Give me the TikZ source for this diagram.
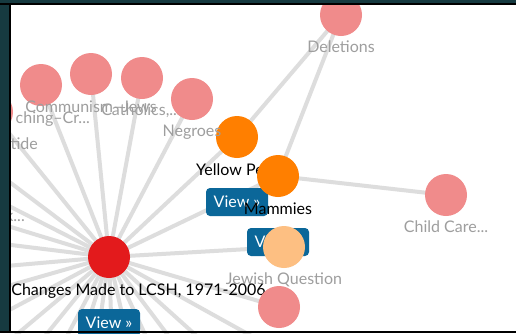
\documentclass[tikz,border=0pt]{standalone}
\usepackage{fontspec}
\setmainfont{Lato}
\definecolor{pinkn}{RGB}{240,139,139}
\definecolor{redn}{RGB}{227,26,28}
\definecolor{orangen}{RGB}{255,127,0}
\definecolor{lorangen}{RGB}{253,191,130}
\definecolor{labelgray}{RGB}{158,158,158}
\definecolor{btnblue}{RGB}{11,103,153}
\definecolor{edgegray}{RGB}{221,221,221}
\definecolor{framet}{RGB}{22,58,64}
\begin{document}
\begin{tikzpicture}[x=1pt,y=-1pt,
  dot/.style={circle, minimum size=42pt, inner sep=0pt, draw=none},
  lbl/.style={anchor=base, inner sep=0pt, font=\fontsize{16}{19}\selectfont, text=labelgray},
  dlbl/.style={lbl, text=black},
  btn/.style={fill=btnblue, rounded corners=4pt, minimum width=62pt, minimum height=28pt, inner sep=0pt, text=white, font=\fontsize{16}{19}\selectfont},
  edge/.style={draw=edgegray, line width=4pt}]
\useasboundingbox (0,0) rectangle (516,333);
\fill[white] (0,0) rectangle (516,333);
% node positions
\coordinate (redc) at (109,257);
\foreach \a in {143,153,163,173,185,196,208,220,231,242,252,262,272,283,295,307,318,331}
  \path (redc) ++(-\a:330) coordinate (o\a);
\coordinate (delc) at (341,15);
\coordinate (ccc) at (446,195);
\coordinate (tidc) at (-8,112);
\coordinate (lync) at (41,85);
\coordinate (comc) at (91,74);
\coordinate (catc) at (142,78);
\coordinate (negc) at (192,99);
\coordinate (ypc) at (237,137);
\coordinate (mamc) at (278,176);
\coordinate (jqc) at (284,247);
\coordinate (bpc) at (279,307);
% edges
\foreach \a in {143,153,163,173,185,196,208,220,231,242,252,262,272,283,295,307,318,331}
  \draw[edge] (redc) -- (o\a);
\foreach \n in {tidc,lync,comc,catc,negc,ypc,mamc,jqc,bpc}
  \draw[edge] (redc) -- (\n);
\draw[edge] (delc) -- (ypc);
\draw[edge] (delc) -- (mamc);
\draw[edge] (mamc) -- (ccc);
% nodes
\node[dot, fill=pinkn] (del) at (delc) {};
\node[lbl] (dell) at (341,52) {Deletions};
\node[dot, fill=pinkn] (cc) at (ccc) {};
\node[lbl] (ccl) at (446,232) {Child Care...};
\node[lbl, anchor=base east] (kl) at (25,221) {k...};
\node[dot, fill=pinkn] (lyn) at (lync) {};
\node[lbl, anchor=base east] (lynl) at (90,123) {ching--Cr...};
\node[dot, fill=pinkn] (tid) at (tidc) {};
\node[lbl, anchor=base east] (tidl) at (38,149) {tide};
\node[dot, fill=pinkn] (com) at (comc) {};
\node[lbl] (coml) at (91,112) {Communism--Jews};
\node[dot, fill=pinkn] (cat) at (catc) {};
\node[lbl] (catl) at (141,115) {Catholics,...};
\node[dot, fill=orangen] (yp) at (ypc) {};
\node[dlbl, anchor=base west] (ypl) at (196,175) {Yellow Pe};
\node[btn] (ypb) at (237,202) {View »};
\node[dot, fill=pinkn] (neg) at (negc) {};
\node[lbl] (negl) at (192,136) {Negroes};
\node[dot, fill=orangen] (mam) at (mamc) {};
\node[dlbl] (maml) at (278,214) {Mammies};
\node[btn] (mamb) at (278,242) {View »};
\node[dot, fill=lorangen] (jq) at (jqc) {};
\node[lbl] (jql) at (284,284) {Jewish Question};
\node[dot, fill=redn] (red) at (redc) {};
\node[dlbl] (redl) at (138.5,295) {Changes Made to LCSH, 1971-2006};
\node[btn] (redb) at (109,323) {View »};
\node[dot, fill=pinkn] (bp) at (bpc) {};
% frame
\fill[framet] (0,0) rectangle (9,333);
\fill[black] (9,0) rectangle (10.5,333);
\fill[framet] (0,0) rectangle (516,3);
\fill[black] (0,3) rectangle (516,4.5);
\fill[black] (0,331) rectangle (516,333);
\end{tikzpicture}
\end{document}
